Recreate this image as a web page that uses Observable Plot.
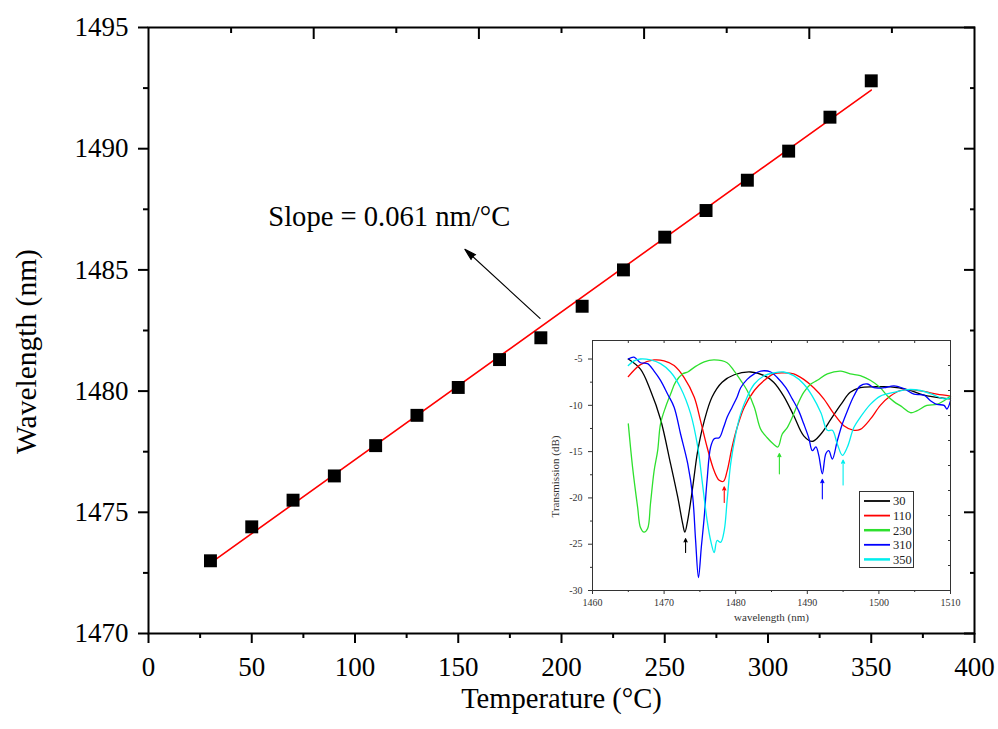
<!DOCTYPE html>
<html>
<head>
<meta charset="utf-8">
<script src="https://cdn.jsdelivr.net/npm/d3@7"></script>
<script src="https://cdn.jsdelivr.net/npm/@observablehq/plot@0.6"></script>
<style>
  body { margin: 0; background: #fff; }
  #wrap { position: relative; width: 998px; height: 729px; overflow: hidden; background: #fff; }
  #main, #inset, #legend { position: absolute; }
  #main { left: 0; top: 0; }
  #inset { left: 540px; top: 330px; }
  #legend { left: 859px; top: 491px; }
</style>
</head>
<body>
<div id="wrap"><div id="main"></div><div id="inset"></div><div id="legend"></div></div>
<script>
// ---------- Main chart data ----------
const temperature = [30, 50, 70, 90, 110, 130, 150, 170, 190, 210, 230, 250, 270, 290, 310, 330, 350];
const wavelength = [1473.0, 1474.4, 1475.5, 1476.5, 1477.75, 1479.0, 1480.15, 1481.3, 1482.2, 1483.5, 1485.0, 1486.35, 1487.45, 1488.7, 1489.9, 1491.3, 1492.8];
const fitTemperature = [30, 350];
const fitWavelength = [1472.9, 1492.42];
const slopeText = "Slope = 0.061 nm/°C";
const slopeLabelAt = [58, 1487.2];
const arrowFrom = [189.6, 1483.0];
const arrowTo = [153.2, 1485.85];
const xMajor = [0, 50, 100, 150, 200, 250, 300, 350, 400];
const xMinor = [25, 75, 125, 175, 225, 275, 325, 375];
const xTopMajor = [80, 160, 240, 320];
const xTopMinor = [40, 120, 200, 280, 360];
const yMajor = [1470, 1475, 1480, 1485, 1490, 1495];
const yMinor = [1472.5, 1477.5, 1482.5, 1487.5, 1492.5];

// ---------- Inset data (transmission spectra) ----------
const seriesNames = ["30", "110", "230", "310", "350"];
const seriesColors = ["#000000", "#ff0000", "#2ee02e", "#0000ff", "#00eeee"];

const wl30 = [1465, 1466.7, 1468.1, 1469.5, 1470.9, 1471.9, 1472.6, 1472.9, 1473.3, 1474.0, 1474.7, 1475.6, 1476.7, 1478.1, 1479.8, 1482.1, 1484.0, 1485.3, 1486.7, 1488.1, 1489.5, 1490.7, 1491.9, 1493.3, 1494.7, 1496.0, 1497.4, 1499.3, 1501.6, 1504.0, 1506.3, 1508.6, 1510];
const db30 = [-5.0, -6.1, -8.4, -11.5, -16.3, -19.9, -22.8, -23.7, -22.4, -18.8, -14.9, -11.7, -9.1, -7.5, -6.7, -6.4, -6.8, -7.5, -9.0, -11.1, -13.3, -13.9, -13.1, -11.5, -9.9, -8.6, -8.1, -8.0, -8.0, -8.3, -8.9, -9.2, -9.3];

const wl110 = [1465, 1466.7, 1468.6, 1470.0, 1471.4, 1472.8, 1474.2, 1475.1, 1476.0, 1477.0, 1477.7, 1478.3, 1478.8, 1479.5, 1480.2, 1481.2, 1482.6, 1484.0, 1485.3, 1486.7, 1488.1, 1489.5, 1490.9, 1492.3, 1493.7, 1495.1, 1496.5, 1497.4, 1498.8, 1500.2, 1501.6, 1503.0, 1504.4, 1506.3, 1508.1, 1510];
const db110 = [-6.9, -5.6, -5.1, -5.2, -5.7, -7.0, -9.1, -11.7, -14.5, -17.1, -18.1, -18.2, -17.1, -14.5, -12.4, -10.2, -8.4, -7.3, -6.6, -6.5, -6.6, -7.2, -8.1, -9.3, -10.9, -12.2, -12.7, -12.6, -11.5, -10.0, -9.0, -8.4, -8.3, -8.5, -8.8, -9.0];

const wl230 = [1465, 1465.6, 1466.3, 1466.7, 1467.2, 1467.7, 1468.1, 1468.6, 1469.1, 1469.5, 1470.2, 1470.9, 1471.6, 1472.6, 1473.3, 1474.2, 1475.6, 1477.0, 1478.8, 1479.8, 1480.7, 1481.6, 1482.6, 1483.5, 1484.4, 1485.3, 1485.9, 1486.5, 1487.2, 1487.9, 1488.6, 1489.5, 1490.5, 1491.4, 1492.8, 1494.7, 1496.0, 1497.4, 1498.8, 1500.2, 1501.2, 1502.1, 1503.3, 1504.4, 1505.3, 1506.7, 1508.1, 1509.1, 1510];
const db230 = [-12.0, -16.7, -21.0, -23.2, -23.7, -23.3, -20.6, -17.1, -14.9, -12.0, -10.2, -8.8, -7.5, -6.6, -6.4, -5.9, -5.3, -5.1, -5.4, -6.3, -7.3, -8.4, -10.2, -12.6, -13.5, -14.2, -14.5, -13.1, -12.4, -11.3, -10.0, -8.6, -7.7, -7.3, -6.6, -6.3, -6.6, -6.8, -7.3, -8.1, -9.0, -9.6, -10.2, -10.8, -10.6, -10.0, -9.9, -9.5, -9.0];

const wl310 = [1465, 1465.8, 1466.7, 1467.7, 1468.6, 1469.5, 1470.5, 1471.4, 1472.3, 1473.3, 1474.0, 1474.4, 1474.8, 1475.2, 1475.6, 1476.0, 1476.5, 1477.0, 1477.7, 1478.3, 1478.8, 1479.5, 1480.2, 1480.7, 1481.6, 1482.6, 1483.5, 1484.9, 1485.8, 1487.0, 1487.9, 1488.8, 1489.5, 1490.2, 1490.7, 1491.2, 1491.6, 1492.1, 1492.6, 1493.0, 1493.5, 1494.2, 1494.9, 1495.6, 1496.5, 1497.4, 1498.4, 1499.3, 1500.7, 1502.1, 1503.5, 1504.9, 1506.3, 1507.2, 1508.1, 1509.1, 1509.5, 1510];
const db310 = [-5.0, -4.8, -5.4, -5.5, -6.3, -7.3, -8.8, -10.2, -13.1, -16.3, -19.9, -24.6, -28.6, -25.3, -22.1, -18.1, -14.5, -13.6, -13.5, -12.4, -11.3, -10.2, -9.1, -8.1, -7.2, -6.6, -6.3, -6.4, -7.0, -8.1, -9.3, -10.6, -12.0, -13.5, -14.9, -14.5, -15.4, -17.4, -15.2, -14.9, -15.8, -13.8, -12.0, -10.6, -9.0, -7.9, -7.7, -8.1, -8.1, -7.9, -8.2, -8.8, -8.9, -9.5, -9.9, -10.0, -10.4, -9.5];

const wl350 = [1465, 1465.8, 1466.7, 1468.1, 1469.5, 1470.9, 1472.3, 1473.7, 1474.7, 1475.3, 1476.0, 1476.5, 1477.0, 1477.4, 1477.9, 1478.4, 1478.8, 1479.3, 1480.0, 1480.7, 1481.6, 1482.6, 1484.0, 1485.3, 1486.7, 1488.1, 1489.5, 1490.7, 1491.9, 1492.8, 1493.5, 1494.2, 1494.9, 1495.6, 1496.5, 1497.4, 1498.8, 1500.2, 1502.1, 1504.0, 1505.8, 1507.7, 1509.1, 1510];
const db350 = [-5.7, -5.2, -5.0, -5.1, -5.5, -6.4, -8.1, -10.9, -14.5, -18.1, -22.4, -24.6, -25.9, -24.6, -24.8, -23.5, -20.3, -16.3, -13.1, -10.9, -9.1, -7.7, -6.8, -6.5, -6.4, -6.8, -7.7, -9.0, -10.8, -12.7, -12.7, -14.2, -15.4, -14.5, -12.4, -11.3, -9.9, -9.0, -8.6, -8.3, -8.4, -8.9, -9.3, -9.2];

// dip marker arrows in the inset
const dipWl = [1473.0, 1478.4, 1486.1, 1492.1, 1495.0];
const dipBase = [-25.9, -20.5, -17.4, -20.1, -18.6];
const dipTip = [-24.4, -18.8, -15.2, -18.0, -15.9];

const insetXMajor = [1460, 1470, 1480, 1490, 1500, 1510];
const insetXMinor = [1465, 1475, 1485, 1495, 1505];
const insetTop = [1465, 1470, 1475, 1480, 1485, 1490, 1495, 1500, 1505];
const insetYMajor = [-5, -10, -15, -20, -25, -30];
const insetYMinor = [-7.5, -12.5, -17.5, -22.5, -27.5];
const insetRight = [-5.7, -8.4, -11.1, -13.8, -16.5, -19.2, -21.9, -24.6, -27.3];

// ---------- Build ----------
const serif = '"Liberation Serif", "Times New Roman", Times, serif';
const points = temperature.map((t, i) => ({t, w: wavelength[i]}));
const fit = fitTemperature.map((t, i) => ({t, w: fitWavelength[i]}));

const main = Plot.plot({
  width: 998, height: 729,
  marginLeft: 148, marginRight: 24, marginTop: 27, marginBottom: 96,
  style: {fontFamily: serif, color: "#000", background: "transparent", overflow: "visible"},
  x: {domain: [0, 400]},
  y: {domain: [1470, 1495]},
  marks: [
    Plot.axisY({ticks: yMajor, tickSize: 10, tickPadding: 10, strokeWidth: 2, fontSize: 27, label: null, tickFormat: d => String(d)}),
    Plot.axisY({ticks: yMinor, tickSize: 5, strokeWidth: 2, text: null, label: null}),
    Plot.axisY({anchor: "right", ticks: yMajor, tickSize: -11, strokeWidth: 2, text: null, label: null}),
    Plot.axisY({anchor: "right", ticks: yMinor, tickSize: -5, strokeWidth: 2, text: null, label: null}),
    Plot.axisX({ticks: xMajor, tickSize: 10, tickPadding: 13, strokeWidth: 2, fontSize: 27, label: null, tickFormat: d => String(d)}),
    Plot.axisX({ticks: xMinor, tickSize: 5, strokeWidth: 2, text: null, label: null}),
    Plot.axisX({anchor: "top", ticks: xTopMajor, tickSize: -11, strokeWidth: 2, text: null, label: null}),
    Plot.axisX({anchor: "top", ticks: xTopMinor, tickSize: -5, strokeWidth: 2, text: null, label: null}),
    Plot.frame({strokeWidth: 2}),
    Plot.line(fit, {x: "t", y: "w", stroke: "#ff0000", strokeWidth: 1.6}),
    Plot.dot(points, {x: "t", y: "w", symbol: "square", fill: "#000", r: 7.3}),
    Plot.arrow([0], {x1: () => arrowFrom[0], y1: () => arrowFrom[1], x2: () => arrowTo[0], y2: () => arrowTo[1],
      stroke: "#000", fill: "#000", strokeWidth: 1.2, headAngle: 32, headLength: 15}),
    Plot.text([slopeText], {x: () => slopeLabelAt[0], y: () => slopeLabelAt[1], text: d => d, textAnchor: "start", fontSize: 28.6, fill: "#000"}),
    Plot.text(["Temperature (°C)"], {frameAnchor: "bottom", textAnchor: "middle", lineAnchor: "middle", dy: 65, text: d => d, fontSize: 28.6, fill: "#000"}),
    Plot.text(["Wavelength (nm)"], {frameAnchor: "left", textAnchor: "middle", lineAnchor: "middle", dx: -122, dy: 21, rotate: -90, text: d => d, fontSize: 29.5, fill: "#000"})
  ]
});
document.getElementById("main").appendChild(main);

const spectra = [];
[[wl30, db30], [wl110, db110], [wl230, db230], [wl310, db310], [wl350, db350]].forEach(([wl, db], k) => {
  wl.forEach((x, i) => spectra.push({series: seriesNames[k], wl: x, db: db[i]}));
});
const dips = dipWl.map((x, i) => ({series: seriesNames[i], x, y1: dipBase[i], y2: dipTip[i]}));

const inset = Plot.plot({
  width: 420, height: 300,
  marginLeft: 52, marginRight: 10, marginTop: 10, marginBottom: 40,
  style: {fontFamily: serif, color: "#333", background: "transparent", overflow: "visible"},
  x: {domain: [1460, 1510]},
  y: {domain: [-30, -3]},
  color: {domain: seriesNames, range: seriesColors},
  marks: [
    Plot.frame({fill: "#fff", stroke: "none"}),
    Plot.axisY({ticks: insetYMajor, tickSize: 4, tickPadding: 6, fontSize: 10, label: null, tickFormat: d => String(d)}),
    Plot.axisY({ticks: insetYMinor, tickSize: 2, text: null, label: null}),
    Plot.axisY({anchor: "right", ticks: insetRight, tickSize: -3, text: null, label: null}),
    Plot.axisX({ticks: insetXMajor, tickSize: 4, tickPadding: 4, fontSize: 10, label: null, tickFormat: d => String(d)}),
    Plot.axisX({ticks: insetXMinor, tickSize: 2, text: null, label: null}),
    Plot.axisX({anchor: "top", ticks: insetTop, tickSize: -2, text: null, label: null}),
    Plot.line(spectra, {x: "wl", y: "db", z: "series", stroke: "series", strokeWidth: 1.3, curve: "catmull-rom"}),
    Plot.arrow(dips, {x1: "x", x2: "x", y1: "y1", y2: "y2", stroke: "series", fill: "series", strokeWidth: 1.1, headAngle: 50, headLength: 5}),
    Plot.frame({stroke: "#333", strokeWidth: 1}),
    Plot.text(["Transmission (dB)"], {frameAnchor: "left", textAnchor: "middle", lineAnchor: "middle", dx: -37, dy: 11, rotate: -90, text: d => d, fontSize: 11, fill: "#333"}),
    Plot.text(["wavelength (nm)"], {frameAnchor: "bottom", textAnchor: "middle", lineAnchor: "middle", dy: 27, text: d => d, fontSize: 11, fill: "#333"})
  ]
});
document.getElementById("inset").appendChild(inset);

// ---------- Inset legend ----------
const lg = d3.select("#legend").append("svg").attr("width", 56).attr("height", 78)
  .style("font-family", serif).style("overflow", "visible");
lg.append("rect").attr("x", 0.5).attr("y", 0.5).attr("width", 54).attr("height", 76)
  .attr("fill", "#fff").attr("stroke", "#333").attr("stroke-width", 1);
seriesNames.forEach((name, i) => {
  const y = 10 + i * 14.6;
  lg.append("line").attr("x1", 5).attr("x2", 31).attr("y1", y).attr("y2", y)
    .attr("stroke", seriesColors[i]).attr("stroke-width", i === 2 || i === 4 ? 2.5 : 1.8);
  lg.append("text").attr("x", 34).attr("y", y).attr("dy", "0.35em")
    .attr("font-size", 12.5).attr("fill", "#222").text(name);
});
</script>
</body>
</html>
